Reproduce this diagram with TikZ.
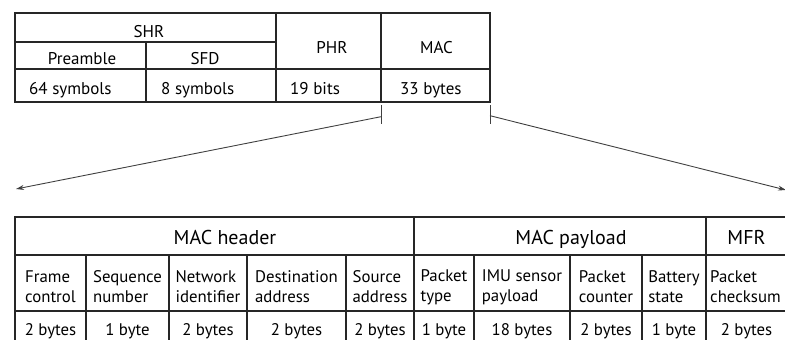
\documentclass[tikz,border=0pt]{standalone}
\usepackage{fontspec}
\setmainfont{PT Sans}
\usetikzlibrary{arrows.meta}
\begin{document}
\begin{tikzpicture}[x=1pt,y=-1pt,
  outer/.style={draw=black!85, line width=1.8pt},
  inner/.style={draw=black!85, line width=1.1pt},
  conn/.style={draw=black!75, line width=0.9pt},
  arr/.style={conn, -{Stealth[length=8pt,width=5pt]}},
  hd/.style={inner sep=0pt, anchor=base, font=\fontsize{17}{20}\selectfont},
  tv/.style={inner sep=0pt, anchor=base west, font=\fontsize{17}{20}\selectfont},
  bh/.style={inner sep=0pt, anchor=base, font=\fontsize{20}{22}\selectfont},
  bm/.style={inner sep=0pt, anchor=center, align=left, font=\fontsize{16.8}{20}\selectfont},
  bb/.style={inner sep=0pt, anchor=base, font=\fontsize{16.8}{20}\selectfont}]
\useasboundingbox (0,0) rectangle (785,340);
\clip (0,0) rectangle (785,340);
% ---- top table
\draw[inner] (15,42) -- (276,42);
\draw[inner] (15,69) -- (490,69);
\draw[inner] (146,42) -- (146,102);
\draw[inner] (276,13) -- (276,102);
\draw[inner] (381,13) -- (381,102);
\draw[outer] (15,13) rectangle (490,102);
\node[hd] (shr) at (149,37.3) {SHR};
\node[hd] (pre) at (82,64.3) {Preamble};
\node[hd] (sfd) at (205,64.3) {SFD};
\node[hd] (phr) at (332,53.3) {PHR};
\node[hd] (mac) at (436.5,53.3) {MAC};
\node[tv] (v1) at (29,94.3) {64 symbols};
\node[tv] (v2) at (161,94.3) {8 symbols};
\node[tv] (v3) at (290,94.3) {19 bits};
\node[tv] (v4) at (400,94.3) {33 bytes};
% ---- connectors
\coordinate (t1a) at (381,105); \coordinate (t1b) at (381,124);
\coordinate (t2a) at (490,105); \coordinate (t2b) at (490,124);
\coordinate (l0) at (381,116.7); \coordinate (l1) at (16,189);
\coordinate (r0) at (490,115.7); \coordinate (r1) at (786,190);
\draw[conn] (t1a) -- (t1b);
\draw[conn] (t2a) -- (t2b);
\draw[arr] (l0) -- (l1);
\draw[arr] (r0) -- (r1);
% ---- bottom table
\draw[inner] (15,255) -- (800,255);
\draw[inner] (15,311) -- (800,311);
\foreach \x in {86,169,247,346,474,570,642} \draw[inner] (\x,255) -- (\x,350);
\draw[inner] (414,217) -- (414,350);
\draw[inner] (706,217) -- (706,350);
\draw[outer] (15,350) -- (15,217) -- (800,217);
\node[bh] (mh) at (225,244.3) {MAC header};
\node[bh] (mp) at (571,244.3) {MAC payload};
\node[bh] (mf) at (746.5,244.3) {MFR};
\node[bm] (c1) at (50.5,287) {Frame\\control};
\node[bm] (c2) at (127.5,287) {Sequence\\number};
\node[bm] (c3) at (208,287) {Network\\identifier};
\node[bm] (c4) at (296.5,287) {Destination\\address};
\node[bm] (c5) at (380,287) {Source\\address};
\node[bm] (c6) at (444,287) {Packet\\type};
\node[bm] (c7) at (522,287) {IMU sensor\\payload};
\node[bm] (c8) at (606,287) {Packet\\counter};
\node[bm] (c9) at (674,287) {Battery\\state};
\node[anchor=west, inner sep=0pt, align=left, font=\fontsize{16.8}{20}\selectfont] (c10) at (710,287) {Packet\\checksum};
\node[bb] (s1) at (50.5,335.3) {2 bytes};
\node[bb] (s2) at (127.5,335.3) {1 byte};
\node[bb] (s3) at (208,335.3) {2 bytes};
\node[bb] (s4) at (296.5,335.3) {2 bytes};
\node[bb] (s5) at (380,335.3) {2 bytes};
\node[bb] (s6) at (444,335.3) {1 byte};
\node[bb] (s7) at (522,335.3) {18 bytes};
\node[bb] (s8) at (606,335.3) {2 bytes};
\node[bb] (s9) at (674,335.3) {1 byte};
\node[bb] (s10) at (746.5,335.3) {2 bytes};
\end{tikzpicture}
\end{document}
